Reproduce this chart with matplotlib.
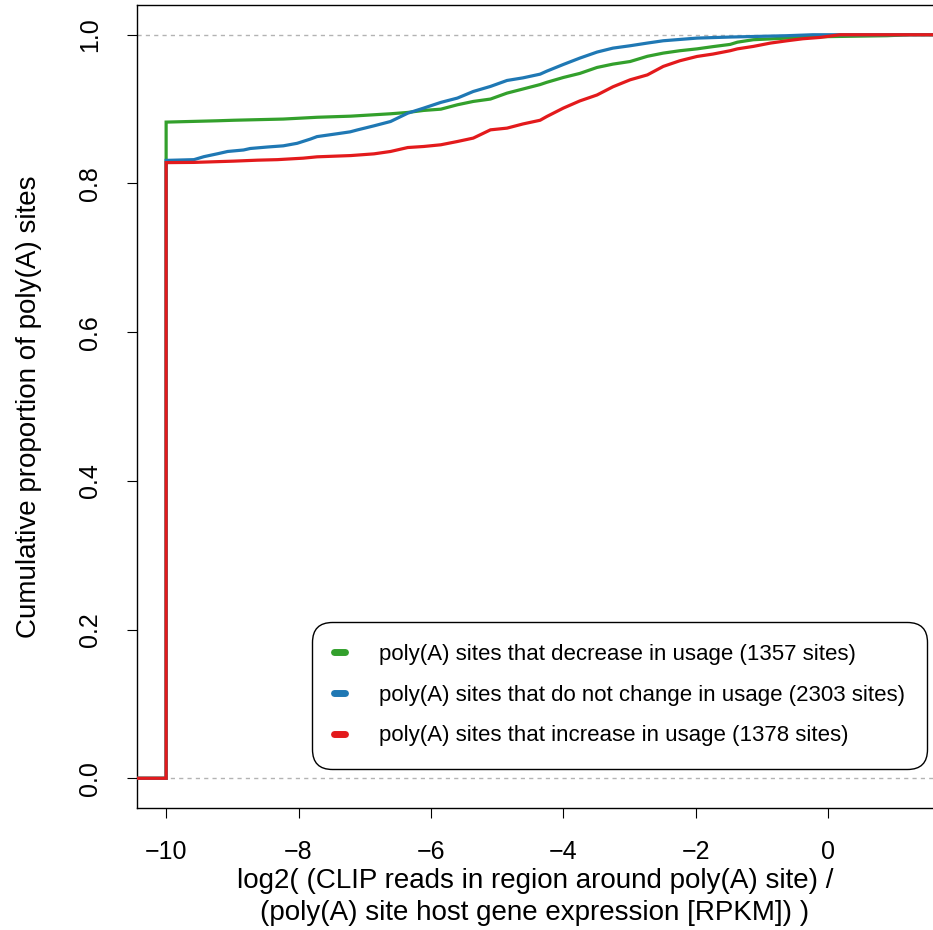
import matplotlib
matplotlib.use("Agg")
import matplotlib.pyplot as plt
from matplotlib.lines import Line2D

plt.rcParams["font.family"] = ["Liberation Sans", "DejaVu Sans"]

# Empirical CDF knots (x = log2 ratio, y = cumulative proportion)
decrease_x = [-10.0, -9.22, -8.98, -8.23, -7.93, -7.72, -7.21, -6.61, -6.35, -6.11,
              -5.85, -5.60, -5.36, -5.10, -4.85, -4.61, -4.35, -4.25, -4.00, -3.75,
              -3.49, -3.25, -2.99, -2.73, -2.49, -2.24, -1.98, -1.74, -1.48, -1.37,
              -1.13, -0.62, -0.12, 0.89, 1.24]
decrease_y = [0.8825, 0.8843, 0.885, 0.8866, 0.888, 0.889, 0.8905, 0.8937, 0.8955, 0.8982,
              0.8999, 0.9058, 0.9103, 0.9135, 0.9215, 0.927, 0.933, 0.936, 0.9425, 0.948,
              0.956, 0.9605, 0.964, 0.971, 0.9753, 0.9785, 0.981, 0.984, 0.987, 0.990,
              0.9933, 0.9955, 0.9973, 0.9987, 1.0]

nochange_x = [-10.0, -9.58, -9.43, -9.22, -9.07, -8.83, -8.73, -8.47, -8.23, -8.02,
              -7.82, -7.72, -7.42, -7.22, -7.11, -6.86, -6.61, -6.35, -6.11, -5.85,
              -5.60, -5.36, -5.10, -4.85, -4.61, -4.35, -4.25, -4.00, -3.75, -3.49,
              -3.25, -2.99, -2.73, -2.49, -1.98, -1.48, -0.62, -0.23]
nochange_y = [0.831, 0.832, 0.836, 0.840, 0.843, 0.845, 0.847, 0.849, 0.8506, 0.854,
              0.8597, 0.863, 0.8668, 0.8694, 0.872, 0.8775, 0.8833, 0.8945, 0.9013, 0.909,
              0.9148, 0.9237, 0.9305, 0.9385, 0.942, 0.947, 0.951, 0.960, 0.9686, 0.9767,
              0.982, 0.9852, 0.9888, 0.9919, 0.9955, 0.9969, 0.9987, 1.0]

increase_x = [-10.0, -9.58, -8.98, -8.62, -8.32, -7.93, -7.72, -7.21, -6.86, -6.61,
              -6.35, -6.11, -5.85, -5.60, -5.36, -5.10, -4.85, -4.61, -4.35, -4.25,
              -4.00, -3.75, -3.49, -3.25, -2.99, -2.73, -2.49, -2.24, -1.98, -1.74,
              -1.48, -1.37, -1.13, -0.87, -0.62, -0.38, -0.12, 0.18]
increase_y = [0.828, 0.8283, 0.830, 0.8313, 0.832, 0.834, 0.8358, 0.8375, 0.8398, 0.843,
              0.8483, 0.8497, 0.852, 0.8564, 0.861, 0.8721, 0.8744, 0.880, 0.8850, 0.890,
              0.9013, 0.911, 0.919, 0.930, 0.9394, 0.946, 0.9574, 0.965, 0.9708, 0.974,
              0.9785, 0.981, 0.9843, 0.9888, 0.9919, 0.9946, 0.9964, 1.0]

series_labels = [
    "poly(A) sites that decrease in usage (1357 sites)",
    "poly(A) sites that do not change in usage (2303 sites)",
    "poly(A) sites that increase in usage (1378 sites)",
]
series_colors = ["#33A02C", "#1F78B4", "#E31A1C"]

x_ticks = [-10, -8, -6, -4, -2, 0]
y_ticks = [0.0, 0.2, 0.4, 0.6, 0.8, 1.0]

W, H = 933, 930
fig = plt.figure(figsize=(W / 100, H / 100), dpi=100)
ax = fig.add_axes([137 / W, 1 - 808 / H, 1 - 137 / W, (808 - 5) / H])

xmin, xmax = -10.44, 1.585
ax.set_xlim(xmin, xmax)
ax.set_ylim(-0.04, 1.04)

# reference lines at 0 and 1
for yv in (0.0, 1.0):
    ax.axhline(yv, color="#b3b3b3", lw=1.0, ls=(0, (3, 3)), zorder=1)

series = [(decrease_x, decrease_y), (nochange_x, nochange_y), (increase_x, increase_y)]
for (xs, ys), col in zip(series, series_colors):
    # zero up to the first knot, vertical jump there, then the curve, flat to the right edge
    px = [xmin, xs[0]] + list(xs) + [xmax]
    py = [0.0, 0.0] + list(ys) + [ys[-1]]
    ax.plot(px, py, color=col, lw=2.3, solid_joinstyle="miter", zorder=3)

ax.set_xticks(x_ticks)
ax.set_xticklabels([f"{t}".replace("-", "\u2212") for t in x_ticks])
ax.set_yticks(y_ticks)
ax.set_yticklabels([f"{t:.1f}" for t in y_ticks], rotation=90, va="center")

ax.tick_params(axis="both", direction="out", length=7, width=0.8,
               labelsize=18, colors="black")
ax.tick_params(axis="x", pad=16)
ax.tick_params(axis="y", pad=18)

for side in ("left", "bottom", "top"):
    ax.spines[side].set_linewidth(1.0)
ax.spines["right"].set_visible(False)

ax.set_xlabel("log2( (CLIP reads in region around poly(A) site) /\n"
              "(poly(A) site host gene expression [RPKM]) )",
              fontsize=20, linespacing=1.3, labelpad=3)
ax.set_ylabel("Cumulative proportion of poly(A) sites", fontsize=20, labelpad=26)

handles = [Line2D([0], [0], color=c, lw=5, solid_capstyle="round") for c in series_colors]
leg = ax.legend(handles, series_labels, loc="upper left",
                bbox_to_anchor=(312 / W, 1 - 622 / H), bbox_transform=fig.transFigure,
                fontsize=16, frameon=True, fancybox=True, framealpha=1,
                edgecolor="black", handlelength=0.5, handletextpad=1.5,
                labelspacing=0.88, borderpad=1.0, borderaxespad=0)
leg.get_frame().set_linewidth(1.0)
leg.get_frame().set_boxstyle("round", pad=0, rounding_size=0.9)

fig.savefig("out.png", dpi=100)
